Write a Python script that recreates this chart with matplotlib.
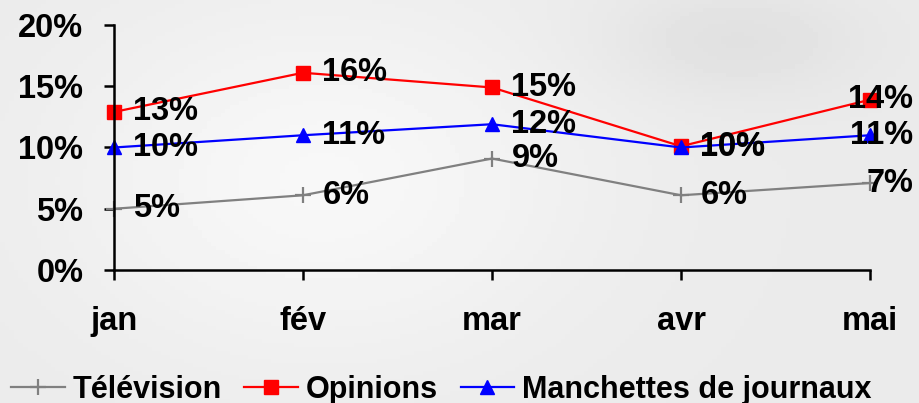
import numpy as np
import matplotlib
matplotlib.use('Agg')
import matplotlib.pyplot as plt

# data
mois = ['jan', 'fév', 'mar', 'avr', 'mai']
television = [0.050, 0.061, 0.091, 0.061, 0.071]
opinions = [0.129, 0.161, 0.149, 0.101, 0.139]
manchettes = [0.100, 0.110, 0.119, 0.100, 0.110]
yticks = [0, 0.05, 0.10, 0.15, 0.20]

plt.rcParams['font.family'] = ['Liberation Sans', 'DejaVu Sans']
plt.rcParams['font.weight'] = 'bold'

fig = plt.figure(figsize=(9.19, 4.03), dpi=100)
fig.patch.set_facecolor('#efefef')

# soft grey gradient as a stand-in for the swirl background
gx, gy = np.meshgrid(np.linspace(0, 1, 200), np.linspace(0, 1, 100))
bg = 0.92 + 0.05 * np.exp(-((gx - 0.35) ** 2 / 0.08 + (gy - 0.45) ** 2 / 0.2)) \
    - 0.04 * np.exp(-((gx - 0.8) ** 2 / 0.02 + (gy - 0.1) ** 2 / 0.02))
bgax = fig.add_axes([0, 0, 1, 1], zorder=-10)
bgax.imshow(bg, cmap='gray', vmin=0, vmax=1, aspect='auto', extent=[0, 1, 0, 1])
bgax.axis('off')

ax = fig.add_axes([0.124, 0.330, 0.8227, 0.608])
ax.patch.set_alpha(0)
x = np.arange(len(mois))

l1, = ax.plot(x, television, color='#808080', lw=1.6, marker='+', ms=11, mew=1.6, label='Télévision', clip_on=False)
l2, = ax.plot(x, opinions, color='#ff0000', lw=1.6, marker='s', ms=10, label='Opinions', clip_on=False)
l3, = ax.plot(x, manchettes, color='#0000ff', lw=1.6, marker='^', ms=10, label='Manchettes de journaux', clip_on=False)

for serie in (television, opinions, manchettes):
    for i, v in enumerate(serie):
        txt = '%d%%' % round(v * 100)
        if i == len(serie) - 1:
            ax.annotate(txt, (i, v), xytext=(31, 0), textcoords='offset points',
                        ha='right', va='center', fontsize=23.5, fontweight='bold', annotation_clip=False)
        else:
            ax.annotate(txt, (i, v), xytext=(14, 0), textcoords='offset points',
                        ha='left', va='center', fontsize=23.5, fontweight='bold')

ax.set_xlim(0, 4)
ax.set_ylim(0, 0.20)
ax.set_xticks(x)
ax.set_xticklabels(mois)
ax.set_yticks(yticks)
ax.set_yticklabels(['%d%%' % round(t * 100) for t in yticks])
ax.tick_params(axis='both', direction='out', length=7, width=1.8, labelsize=23.5)
ax.tick_params(axis='x', pad=19)
ax.tick_params(axis='y', pad=15)
for lab in ax.get_xticklabels() + ax.get_yticklabels():
    lab.set_fontweight('bold')
ax.spines['top'].set_visible(False)
ax.spines['right'].set_visible(False)
ax.spines['left'].set_linewidth(1.8)
ax.spines['bottom'].set_linewidth(1.8)

leg = fig.legend(handles=[l1, l2, l3], loc='lower center', bbox_to_anchor=(0.48, -0.072), ncol=3,
                 frameon=False, handlelength=1.75, handletextpad=0.25, columnspacing=0.75,
                 prop={'weight': 'bold', 'size': 22})

fig.savefig('out.png', dpi=100, facecolor=fig.get_facecolor())
